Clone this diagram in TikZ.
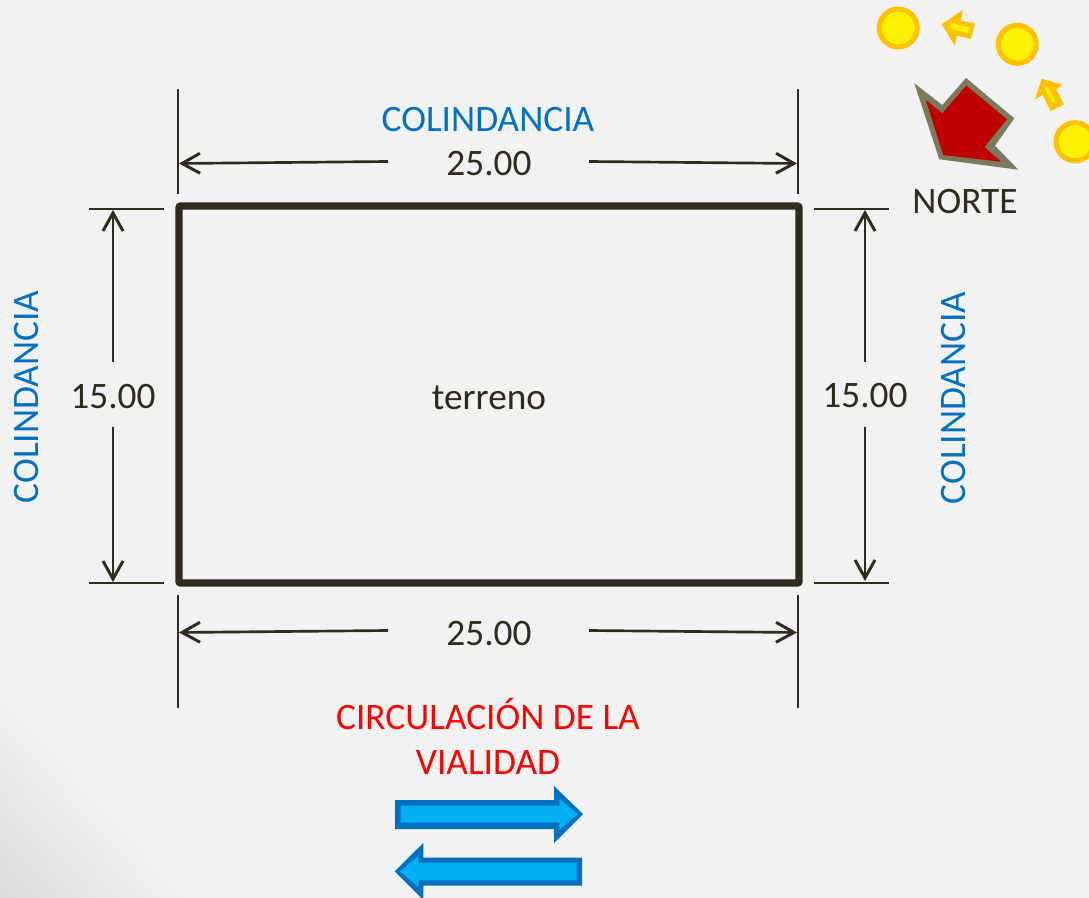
\documentclass[tikz,border=0pt]{standalone}
\usepackage{fontspec}
\setmainfont{Carlito}
\usetikzlibrary{arrows.meta}
\definecolor{ink}{HTML}{2F2B20}
\definecolor{bluetxt}{HTML}{0070C0}
\definecolor{sky}{HTML}{00B0F0}
\definecolor{olive}{HTML}{7B7A5C}
\definecolor{dkred}{HTML}{C00000}
\definecolor{amber}{HTML}{FFC000}
\definecolor{bg}{HTML}{F2F2F2}
\definecolor{bgdark}{HTML}{DCDCDC}
\tikzset{
  x=0.75pt,y=-0.75pt,
  lbl/.style={inner sep=0pt,font=\fontsize{28pt}{32pt}\selectfont,text=ink},
  cola/.style={lbl,text=bluetxt},
  via/.style={lbl,text=red},
  extline/.style={draw=ink,line width=2pt},
  dimline/.style={draw=ink,line width=2pt,-{Straight Barb[length=13.5pt,width=15pt,line width=2.2pt]}},
  sun/.style={circle,draw=amber,fill=yellow,line width=3.75pt,minimum size=28.5pt,inner sep=0pt,outer sep=0pt},
}
\begin{document}
\begin{tikzpicture}
\clip (0,0) rectangle (1089,898);
\fill[bg] (0,0) rectangle (1089,898);
\useasboundingbox (0,0) rectangle (1089,898);
% soft shade in the lower left corner
\foreach \i in {1,...,40}{
  \pgfmathsetmacro{\f}{1-(\i-1)/40}
  \pgfmathsetmacro{\m}{(\i/40)*100}
  \fill[bgdark!\m!bg] (0,898-210*\f) -- (0,898) -- (190*\f,898) -- cycle;
}
% plot outline
\node[draw=ink,line width=5.6pt,rounded corners=1.5pt,minimum width=465pt,minimum height=282.75pt,inner sep=0pt,outer sep=0pt] (lot) at (489,394.5) {};
\node[lbl] (terreno) at (489,398) {terreno};
% coordinates
\coordinate (v1a) at (178,89); \coordinate (v1b) at (178,194);
\coordinate (v2a) at (798,89); \coordinate (v2b) at (798,194);
\coordinate (v3a) at (178,595); \coordinate (v3b) at (178,708);
\coordinate (v4a) at (798,595); \coordinate (v4b) at (798,708);
\coordinate (h1a) at (89,209); \coordinate (h1b) at (164,209);
\coordinate (h2a) at (89,583); \coordinate (h2b) at (164,583);
\coordinate (h3a) at (814,209); \coordinate (h3b) at (889,209);
\coordinate (h4a) at (814,583); \coordinate (h4b) at (889,583);
\foreach \p in {v1,v2,v3,v4,h1,h2,h3,h4}{\draw[extline] (\p a) -- (\p b);}
% dimension texts
\node[lbl] (dt) at (489,164) {25.00};
\node[lbl] (db) at (489,634) {25.00};
\node[lbl] (dl) at (113,397) {15.00};
\node[lbl] (dr) at (865,396) {15.00};
% dimension lines
\coordinate (t1) at (388,161.5); \coordinate (t1e) at (179,163.5);
\coordinate (t2) at (589,161.5); \coordinate (t2e) at (797,163.5);
\coordinate (b1) at (388,630.5); \coordinate (b1e) at (179,632.5);
\coordinate (b2) at (589,630.5); \coordinate (b2e) at (797,632.5);
\coordinate (l1) at (113,362); \coordinate (l1e) at (113,210);
\coordinate (l2) at (113,427); \coordinate (l2e) at (113,582);
\coordinate (r1) at (865,362); \coordinate (r1e) at (865,210);
\coordinate (r2) at (865,427); \coordinate (r2e) at (865,581);
\foreach \p in {t1,t2,b1,b2,l1,l2,r1,r2}{\draw[dimline] (\p) -- (\p e);}
% labels
\node[cola] (ct) at (488,120) {COLINDANCIA};
\node[cola,rotate=90] (cl) at (27,397) {COLINDANCIA};
\node[cola,rotate=90] (cr) at (954,398) {COLINDANCIA};
\node[via] (v1) at (488,714.5) {CIRCULACIÓN DE LA};
\node[via] (v2) at (488,763) {VIALIDAD};
\node[lbl] (norte) at (965,201.5) {NORTE};
% suns
\node[sun] (s1) at (898.3,28) {};
\node[sun] (s2) at (1017.3,44.3) {};
\node[sun] (s3) at (1075,141.7) {};
\fill[amber] (941.7,24.3) -- (962.7,10) -- (961,20.7) -- (975,23.3) -- (971,39) -- (956.7,35.7) -- (955,45.7) -- cycle;
\fill[yellow] (949.3,25.7) -- (955,22.3) -- (955,24.3) -- (969,27.3) -- (967.7,33.3) -- (954.3,29.3) -- (953.7,31) -- cycle;
\fill[amber] (1041.7,78.7) -- (1062.3,84.7) -- (1056,89.3) -- (1064,104.3) -- (1050.7,111.3) -- (1042.7,94.7) -- (1035,99.3) -- cycle;
\fill[yellow] (1044.5,88) -- (1047.5,86) -- (1055.5,101.5) -- (1052.5,103) -- cycle;
% north arrow
\fill[olive] (914.3,83.3) -- (942.3,105) -- (966,78) -- (1014.3,118.3) -- (995,145.7) -- (1018.3,169.7) -- (939.3,159.3) -- cycle;
\fill[dkred] (925.7,100) -- (942.3,113.3) -- (966.3,85.7) -- (1007,119.3) -- (984.3,147) -- (1001,161.7) -- (943.3,155) -- cycle;
% traffic arrows
\fill[bluetxt] (395,800) -- (554,800) -- (554,786) -- (583,814) -- (554,843) -- (554,829) -- (395,829) -- cycle;
\fill[sky] (400.7,805.7) -- (559.3,805.7) -- (559.3,799) -- (578,814) -- (559.3,830) -- (559.3,822.7) -- (400.7,822.7) -- cycle;
\fill[bluetxt] (582,857.7) -- (423.3,857.7) -- (423.3,843) -- (394.7,871.3) -- (423.3,900) -- (423.3,885.7) -- (582,885.7) -- cycle;
\fill[sky] (576.7,862.7) -- (418.3,862.7) -- (418.3,856) -- (400,871.3) -- (418.3,887) -- (418.3,880.3) -- (576.7,880.3) -- cycle;
\end{tikzpicture}
\end{document}
